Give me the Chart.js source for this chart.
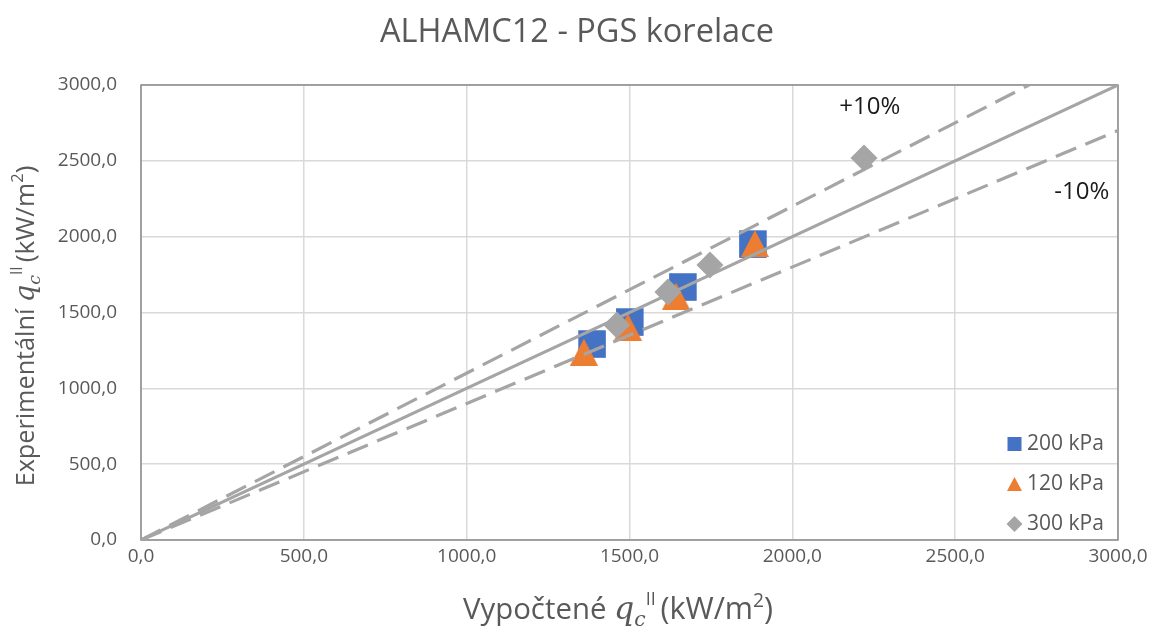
<!DOCTYPE html>
<html>
<head>
<meta charset="utf-8">
<script src="https://cdn.jsdelivr.net/npm/chart.js@4.4.0/dist/chart.umd.min.js"></script>
<style>
  html, body { margin: 0; padding: 0; background: #fff; }
</style>
</head>
<body>
<canvas id="chart" width="1154" height="630"></canvas>
<script>
// values
const x200 = [1385, 1501, 1664, 1879];
const y200 = [1292, 1437, 1668, 1951];
const x120 = [1360, 1495, 1643, 1885];
const y120 = [1239, 1404, 1608, 1955];
const x300 = [1461, 1618, 1747, 2220];
const y300 = [1417, 1635, 1813, 2518];
const seriesLabels = ["200 kPa", "120 kPa", "300 kPa"];
const refX = [0, 3000];
const refExact = [0, 3000];
const refPlusX = [0, 2727];
const refPlus = [0, 3000];
const refMinus = [0, 2700];
const plusLabel = { text: "+10%", x: 2238, y: 2854 };
const minusLabel = { text: "-10%", x: 2889, y: 2294 };

const BLUE = "#4472C4", ORANGE = "#ED7D31", GRAY = "#A5A5A5";
const TXT = "#595959";
const FONT = "'Open Sans', sans-serif";

function pts(xs, ys) {
    return xs.map((v, i) => ({ x: v, y: ys[i] }));
}

function triangle(w, h, color) {
    let c = document.createElement("canvas");
    c.width = w; c.height = h;
    let g = c.getContext("2d");
    g.fillStyle = color;
    g.beginPath();
    g.moveTo(w / 2, 0);
    g.lineTo(w, h);
    g.lineTo(0, h);
    g.closePath();
    g.fill();
    return c;
}

function fmt(v) {
    return Number(v).toFixed(1).replace(".", ",");
}

function drawRich(ctx, segs, x, y) {
    let total = 0;
    segs.forEach(s => { ctx.font = s.f; total += ctx.measureText(s.t).width; });
    let cx = x - total / 2;
    segs.forEach(s => {
        ctx.font = s.f;
        ctx.fillText(s.t, cx, y + (s.dy || 0));
        cx += ctx.measureText(s.t).width;
    });
}

function titleSegs(word, k) {
    return [
        { t: word, f: (26 * k) + "px " + FONT },
        { t: "q", f: "italic " + (28 * k) + "px 'DejaVu Serif'" },
        { t: "c", f: "italic " + (18 * k) + "px 'DejaVu Serif'", dy: 6 * k },
        { t: "II ", f: (16 * k) + "px " + FONT, dy: -12 * k },
        { t: "(kW/m", f: (27 * k) + "px " + FONT },
        { t: "2", f: (17 * k) + "px " + FONT, dy: -11 * k },
        { t: ")", f: (27 * k) + "px " + FONT }
    ];
}

const decor = {
    id: "decor",
    beforeDatasetsDraw(chart) {
        let a = chart.chartArea, ctx = chart.ctx;
        ctx.save();
        ctx.strokeStyle = "#8a8a8a";
        ctx.lineWidth = 1.5;
        ctx.strokeRect(a.left, a.top, a.right - a.left, a.bottom - a.top);
        ctx.restore();
    },
    afterDraw(chart) {
        let ctx = chart.ctx, xs = chart.scales.x, ys = chart.scales.y;
        ctx.save();
        // chart title
        ctx.fillStyle = TXT;
        ctx.textAlign = "center";
        ctx.textBaseline = "middle";
        ctx.font = "32.5px " + FONT;
        ctx.fillText("ALHAMC12 - PGS korelace", 577, 33);

        // +10% / -10%
        ctx.fillStyle = "#1a1a1a";
        ctx.font = "24px " + FONT;
        ctx.fillText(plusLabel.text, xs.getPixelForValue(plusLabel.x), ys.getPixelForValue(plusLabel.y));
        ctx.fillText(minusLabel.text, xs.getPixelForValue(minusLabel.x), ys.getPixelForValue(minusLabel.y));

        // axis titles
        ctx.fillStyle = TXT;
        ctx.textAlign = "left";
        ctx.textBaseline = "alphabetic";
        drawRich(ctx, titleSegs("Vypočtené ", 1.13), 618, 619);
        ctx.translate(34, 326);
        ctx.rotate(-Math.PI / 2);
        drawRich(ctx, titleSegs("Experimentální ", 0.97), 0, 0);
        ctx.restore();

        // legend
        ctx.save();
        let lx = 1014.5, ly = [444, 484, 524];
        ctx.fillStyle = BLUE;
        ctx.fillRect(lx - 7, ly[0] - 7, 14, 14);
        ctx.fillStyle = ORANGE;
        ctx.beginPath();
        ctx.moveTo(lx, ly[1] - 7); ctx.lineTo(lx + 7.5, ly[1] + 7); ctx.lineTo(lx - 7.5, ly[1] + 7);
        ctx.closePath(); ctx.fill();
        ctx.fillStyle = GRAY;
        ctx.beginPath();
        ctx.moveTo(lx, ly[2] - 8); ctx.lineTo(lx + 8, ly[2]); ctx.lineTo(lx, ly[2] + 8); ctx.lineTo(lx - 8, ly[2]);
        ctx.closePath(); ctx.fill();
        ctx.fillStyle = TXT;
        ctx.font = "21px " + FONT;
        ctx.textAlign = "left";
        ctx.textBaseline = "middle";
        seriesLabels.forEach((t, i) => ctx.fillText(t, 1027, ly[i]));
        ctx.restore();
    }
};

let ctx = document.getElementById("chart").getContext("2d");
new Chart(ctx, {
    type: "scatter",
    data: {
        datasets: [
            {
                label: "exact",
                data: pts(refX, refExact),
                showLine: true, borderColor: GRAY, borderWidth: 3,
                pointRadius: 0, order: 0
            },
            {
                label: "+10%",
                data: pts(refPlusX, refPlus),
                showLine: true, borderColor: GRAY, borderWidth: 3.2, borderDash: [22, 10],
                pointRadius: 0, order: 0
            },
            {
                label: "-10%",
                data: pts(refX, refMinus),
                showLine: true, borderColor: GRAY, borderWidth: 3.2, borderDash: [22, 10],
                pointRadius: 0, order: 0
            },
            {
                label: seriesLabels[0],
                data: pts(x200, y200),
                pointStyle: "rect", pointRadius: 19.5, pointHoverRadius: 19.5,
                backgroundColor: BLUE, borderWidth: 0, order: 3
            },
            {
                label: seriesLabels[1],
                data: pts(x120, y120),
                pointStyle: triangle(28, 27, ORANGE), pointRadius: 14,
                backgroundColor: ORANGE, borderWidth: 0, order: 2
            },
            {
                label: seriesLabels[2],
                data: pts(x300, y300),
                pointStyle: "rectRot", pointRadius: 13.5, pointHoverRadius: 13.5,
                backgroundColor: GRAY, borderWidth: 0, order: 1
            }
        ]
    },
    options: {
        responsive: false,
        animation: false,
        layout: { padding: { left: 0, right: 36, top: 85, bottom: 0 } },
        plugins: { legend: { display: false }, tooltip: { enabled: false }, title: { display: false } },
        scales: {
            x: {
                type: "linear", min: 0, max: 3000,
                afterFit: s => { s.height = 90; },
                grid: { color: "#D9D9D9", lineWidth: 1.5, drawTicks: false },
                border: { display: false },
                ticks: { stepSize: 500, padding: 5, color: TXT, font: { family: "Open Sans", size: 19 }, callback: fmt }
            },
            y: {
                type: "linear", min: 0, max: 3000,
                afterFit: s => { s.width = 141; },
                grid: { color: "#D9D9D9", lineWidth: 1.5, drawTicks: false },
                border: { display: false },
                ticks: { stepSize: 500, padding: 24, color: TXT, font: { family: "Open Sans", size: 19 }, callback: fmt }
            }
        }
    },
    plugins: [decor]
});
</script>
</body>
</html>
